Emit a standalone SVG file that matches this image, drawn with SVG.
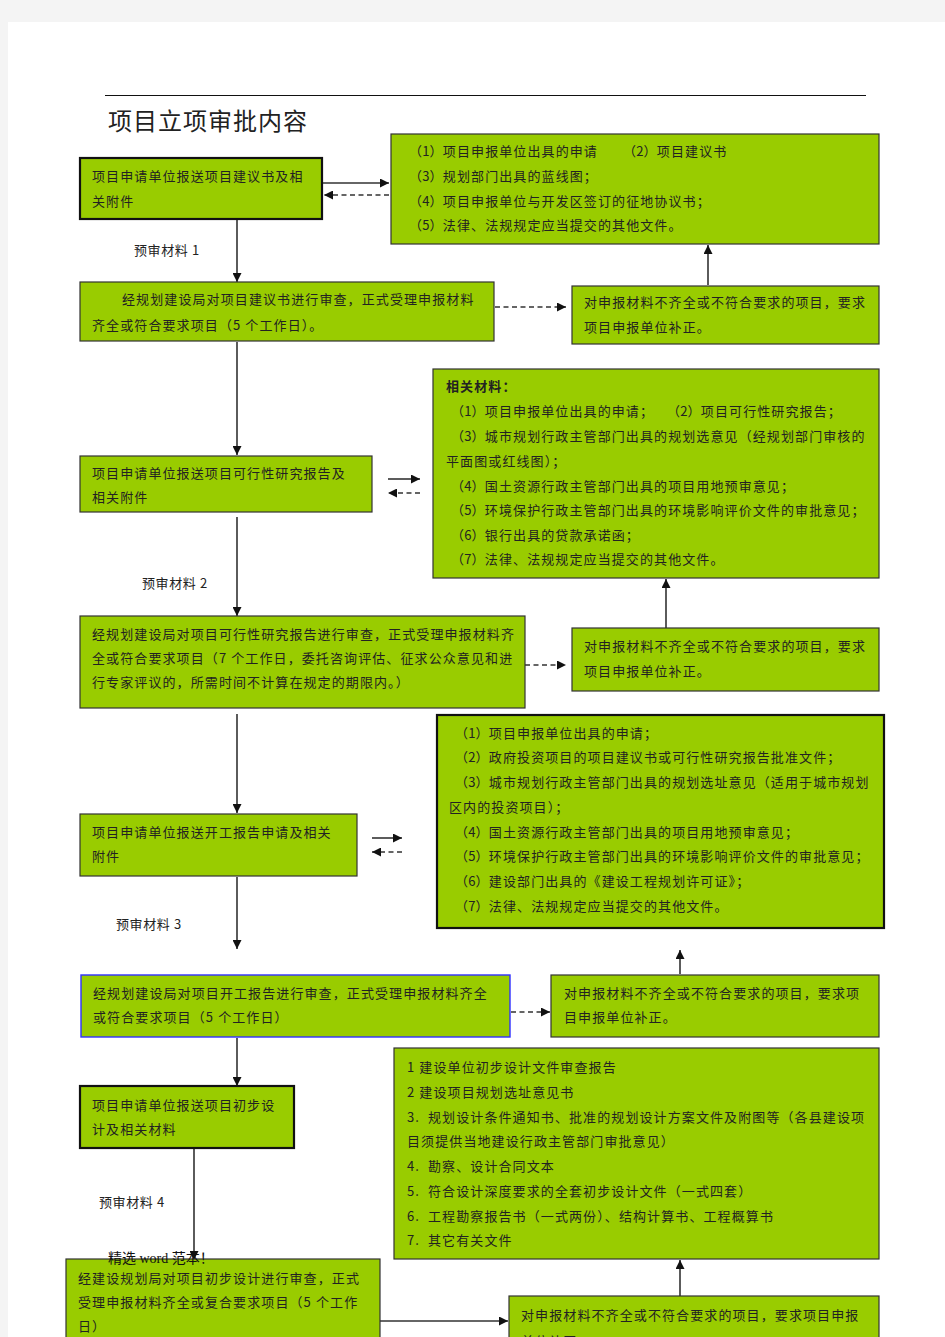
<svg xmlns="http://www.w3.org/2000/svg" width="945" height="1337" viewBox="0 0 945 1337">
<style>
.box{fill:#99cc00;stroke:#333;stroke-width:1.2}
.thick{stroke:#111;stroke-width:2.2}
.blue{stroke:#3030ff;stroke-width:1.4}
.t{font-family:"Noto Sans CJK SC","Liberation Sans",sans-serif;font-size:13px;letter-spacing:1.1px;fill:#222}
.n{letter-spacing:0.2px}
.b{font-weight:bold}
.lbl{font-family:"Noto Sans CJK SC","Liberation Sans",sans-serif;font-size:13px;letter-spacing:0.6px;fill:#222}
.c{fill:none;stroke:#333;stroke-width:1.6}
.d{fill:none;stroke:#333;stroke-width:1.6;stroke-dasharray:5 3.5}
</style>
<defs>
<marker id="ah" viewBox="0 0 10 10" refX="10" refY="5" markerWidth="9" markerHeight="9" markerUnits="userSpaceOnUse" orient="auto"><path d="M0,0 L10,5 L0,10 z" fill="#111"/></marker>
</defs>
<rect x="0" y="0" width="945" height="1337" fill="#f4f4f4"/>
<rect x="8" y="22" width="937" height="1315" fill="#ffffff"/>
<line x1="105" y1="95.5" x2="866" y2="95.5" stroke="#111" stroke-width="1"/>
<text x="108" y="130" style="font-family:'Noto Sans CJK SC',sans-serif;font-size:24px;letter-spacing:1px;fill:#222">项目立项审批内容</text>

<g id="connectors">
<path class="c" d="M323,183 H389" marker-end="url(#ah)"/>
<path class="d" d="M389,195 H324" marker-end="url(#ah)"/>
<path class="c" d="M237,220 V282" marker-end="url(#ah)"/>
<path class="d" d="M495,307 H566" marker-end="url(#ah)"/>
<path class="c" d="M708,285 V245" marker-end="url(#ah)"/>
<path class="c" d="M237,342 V455" marker-end="url(#ah)"/>
<path class="c" d="M388,479 H420" marker-end="url(#ah)"/>
<path class="d" d="M420,493 H388" marker-end="url(#ah)"/>
<path class="c" d="M237,517 V616" marker-end="url(#ah)"/>
<path class="d" d="M525,665 H566" marker-end="url(#ah)"/>
<path class="c" d="M666,628 V579" marker-end="url(#ah)"/>
<path class="c" d="M237,714 V813" marker-end="url(#ah)"/>
<path class="c" d="M372,838 H402" marker-end="url(#ah)"/>
<path class="d" d="M402,852 H372" marker-end="url(#ah)"/>
<path class="c" d="M237,877 V949" marker-end="url(#ah)"/>
<path class="d" d="M511,1012 H550" marker-end="url(#ah)"/>
<path class="c" d="M680,974 V950" marker-end="url(#ah)"/>
<path class="c" d="M237,1038 V1086" marker-end="url(#ah)"/>
<path class="c" d="M194,1149 V1260" marker-end="url(#ah)"/>
<path class="c" d="M380,1321 H508" marker-end="url(#ah)"/>
<path class="c" d="M680,1296 V1260" marker-end="url(#ah)"/>
</g>

<g id="label1"><text class="lbl" x="134" y="255">预审材料 1</text></g>
<g id="label2"><text class="lbl" x="142" y="588">预审材料 2</text></g>
<g id="label3"><text class="lbl" x="116" y="929">预审材料 3</text></g>
<g id="label4"><text class="lbl" x="99" y="1207">预审材料 4</text></g>

<g id="nodeA">
<rect class="box thick" x="80" y="158" width="242" height="61"/>
<text class="t" x="92" y="181">项目申请单位报送项目建议书及相</text>
<text class="t" x="92" y="206">关附件</text>
</g>
<g id="nodeB">
<rect class="box" x="391" y="134" width="488" height="110"/>
<text class="t" x="409" y="156"><tspan class="n">（1）</tspan>项目申报单位出具的申请</text>
<text class="t" x="623" y="156"><tspan class="n">（2）</tspan>项目建议书</text>
<text class="t" x="409" y="181"><tspan class="n">（3）</tspan>规划部门出具的蓝线图；</text>
<text class="t" x="409" y="206"><tspan class="n">（4）</tspan>项目申报单位与开发区签订的征地协议书；</text>
<text class="t" x="409" y="230"><tspan class="n">（5）</tspan>法律、法规规定应当提交的其他文件。</text>
</g>
<g id="nodeC">
<rect class="box" x="80" y="282" width="414" height="59"/>
<text class="t" x="122" y="304">经规划建设局对项目建议书进行审查，正式受理申报材料</text>
<text class="t" x="92" y="330">齐全或符合要求项目（5 个工作日）。</text>
</g>
<g id="nodeD">
<rect class="box" x="572" y="286" width="307" height="58"/>
<text class="t" x="584" y="307">对申报材料不齐全或不符合要求的项目，要求</text>
<text class="t" x="584" y="332">项目申报单位补正。</text>
</g>
<g id="nodeE">
<rect class="box" x="80" y="456" width="292" height="56"/>
<text class="t" x="92" y="478">项目申请单位报送项目可行性研究报告及</text>
<text class="t" x="92" y="502">相关附件</text>
</g>
<g id="nodeF">
<rect class="box" x="433" y="369" width="446" height="209"/>
<text class="t b" x="446" y="391">相关材料：</text>
<text class="t" x="451" y="416"><tspan class="n">（1）</tspan>项目申报单位出具的申请；</text>
<text class="t" x="667" y="416"><tspan class="n">（2）</tspan>项目可行性研究报告；</text>
<text class="t" x="451" y="441"><tspan class="n">（3）</tspan>城市规划行政主管部门出具的规划选意见（经规划部门审核的</text>
<text class="t" x="446" y="466">平面图或红线图）；</text>
<text class="t" x="451" y="491"><tspan class="n">（4）</tspan>国土资源行政主管部门出具的项目用地预审意见；</text>
<text class="t" x="451" y="515"><tspan class="n">（5）</tspan>环境保护行政主管部门出具的环境影响评价文件的审批意见；</text>
<text class="t" x="451" y="540"><tspan class="n">（6）</tspan>银行出具的贷款承诺函；</text>
<text class="t" x="451" y="564"><tspan class="n">（7）</tspan>法律、法规规定应当提交的其他文件。</text>
</g>
<g id="nodeG">
<rect class="box" x="80" y="616" width="445" height="92"/>
<text class="t" x="92" y="639">经规划建设局对项目可行性研究报告进行审查，正式受理申报材料齐</text>
<text class="t" x="92" y="663">全或符合要求项目（7 个工作日，委托咨询评估、征求公众意见和进</text>
<text class="t" x="92" y="687">行专家评议的，所需时间不计算在规定的期限内。）</text>
</g>
<g id="nodeH">
<rect class="box" x="572" y="628" width="307" height="63"/>
<text class="t" x="584" y="651">对申报材料不齐全或不符合要求的项目，要求</text>
<text class="t" x="584" y="676">项目申报单位补正。</text>
</g>
<g id="nodeI">
<rect class="box" x="80" y="814" width="277" height="62"/>
<text class="t" x="92" y="837">项目申请单位报送开工报告申请及相关</text>
<text class="t" x="92" y="861">附件</text>
</g>
<g id="nodeJ">
<rect class="box thick" x="437" y="715" width="447" height="213"/>
<text class="t" x="455" y="738"><tspan class="n">（1）</tspan>项目申报单位出具的申请；</text>
<text class="t" x="455" y="762"><tspan class="n">（2）</tspan>政府投资项目的项目建议书或可行性研究报告批准文件；</text>
<text class="t" x="455" y="787"><tspan class="n">（3）</tspan>城市规划行政主管部门出具的规划选址意见（适用于城市规划</text>
<text class="t" x="449" y="812">区内的投资项目）；</text>
<text class="t" x="455" y="837"><tspan class="n">（4）</tspan>国土资源行政主管部门出具的项目用地预审意见；</text>
<text class="t" x="455" y="861"><tspan class="n">（5）</tspan>环境保护行政主管部门出具的环境影响评价文件的审批意见；</text>
<text class="t" x="455" y="886"><tspan class="n">（6）</tspan>建设部门出具的《建设工程规划许可证》；</text>
<text class="t" x="455" y="911"><tspan class="n">（7）</tspan>法律、法规规定应当提交的其他文件。</text>
</g>
<g id="nodeK">
<rect class="box blue" x="81" y="975" width="429" height="62"/>
<text class="t" x="93" y="998">经规划建设局对项目开工报告进行审查，正式受理申报材料齐全</text>
<text class="t" x="93" y="1022">或符合要求项目（5 个工作日）</text>
</g>
<g id="nodeL">
<rect class="box" x="551" y="975" width="328" height="62"/>
<text class="t" x="564" y="998">对申报材料不齐全或不符合要求的项目，要求项</text>
<text class="t" x="564" y="1022">目申报单位补正。</text>
</g>
<g id="nodeM">
<rect class="box thick" x="80" y="1086" width="214" height="62"/>
<text class="t" x="92" y="1110">项目申请单位报送项目初步设</text>
<text class="t" x="92" y="1134">计及相关材料</text>
</g>
<g id="nodeN">
<rect class="box" x="394" y="1048" width="485" height="211"/>
<text class="t" x="407" y="1072">1 建设单位初步设计文件审查报告</text>
<text class="t" x="407" y="1097">2 建设项目规划选址意见书</text>
<text class="t" x="407" y="1122">3.</text>
<text class="t" x="428" y="1122">规划设计条件通知书、批准的规划设计方案文件及附图等（各县建设项</text>
<text class="t" x="407" y="1146">目须提供当地建设行政主管部门审批意见）</text>
<text class="t" x="407" y="1171">4.</text>
<text class="t" x="428" y="1171">勘察、设计合同文本</text>
<text class="t" x="407" y="1196">5.</text>
<text class="t" x="428" y="1196">符合设计深度要求的全套初步设计文件（一式四套）</text>
<text class="t" x="407" y="1221">6.</text>
<text class="t" x="428" y="1221">工程勘察报告书（一式两份）、结构计算书、工程概算书</text>
<text class="t" x="407" y="1245">7.</text>
<text class="t" x="428" y="1245">其它有关文件</text>
</g>
<g id="nodeO">
<rect class="box" x="66" y="1259" width="314" height="90"/>
<text class="t" x="78" y="1283">经建设规划局对项目初步设计进行审查，正式</text>
<text class="t" x="78" y="1307">受理申报材料齐全或复合要求项目（5 个工作</text>
<text class="t" x="78" y="1331">日）</text>
</g>
<g id="nodeP">
<rect class="box" x="509" y="1296" width="370" height="60"/>
<text class="t" x="521" y="1320">对申报材料不齐全或不符合要求的项目，要求项目申报</text>
<text class="t" x="521" y="1346">单位补正。</text>
</g>
<text x="108" y="1263" style="font-family:'Liberation Serif','Noto Sans CJK SC',serif;font-size:14px;fill:#111">精选 word 范本！</text>
</svg>
